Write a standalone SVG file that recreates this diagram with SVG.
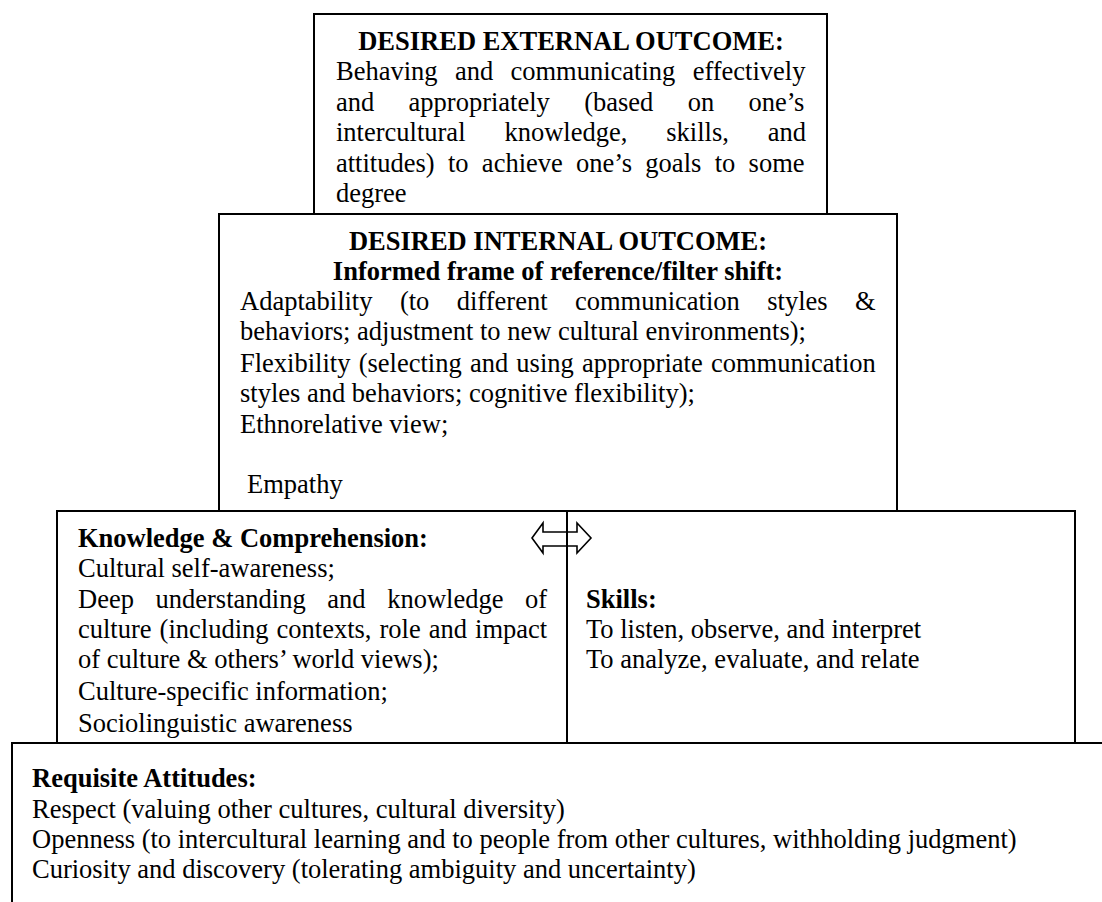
<svg xmlns="http://www.w3.org/2000/svg" width="1102" height="902" viewBox="0 0 1102 902">
  <style>
    .box { fill: #ffffff; stroke: #000000; stroke-width: 2; }
    text { font-family: "Liberation Serif", "Times New Roman", serif; font-size: 26.5px; fill: #000000; }
    .b { font-weight: bold; }
    .c { text-anchor: middle; }
    .arrow { fill: none; stroke: #000000; stroke-width: 1.6; stroke-linejoin: miter; }
  </style>

  <!-- Requisite attitudes (base layer, runs off the page edges) -->
  <g id="attitudes">
    <rect class="box" x="12" y="743" width="1100" height="200"/>
    <text class="b" x="32" y="787">Requisite Attitudes:</text>
    <text x="32" y="818">Respect (valuing other cultures, cultural diversity)</text>
    <text x="32" y="848">Openness (to intercultural learning and to people from other cultures, withholding judgment)</text>
    <text x="32" y="878">Curiosity and discovery (tolerating ambiguity and uncertainty)</text>
  </g>

  <!-- Knowledge & comprehension -->
  <g id="knowledge">
    <rect class="box" x="57" y="511" width="510" height="232"/>
    <text class="b" x="78" y="547">Knowledge &amp; Comprehension:</text>
    <text x="78" y="577">Cultural self-awareness;</text>
    <text x="78" y="608" style="word-spacing:15px">Deep understanding and knowledge of</text>
    <text x="78" y="638" style="word-spacing:1.4px">culture (including contexts, role and impact</text>
    <text x="78" y="668">of culture &amp; others’ world views);</text>
    <text x="78" y="700">Culture-specific information;</text>
    <text x="78" y="732">Sociolinguistic awareness</text>
  </g>

  <!-- Skills -->
  <g id="skills">
    <rect class="box" x="567" y="511" width="508" height="232"/>
    <text class="b" x="586" y="608">Skills:</text>
    <text x="586" y="638">To listen, observe, and interpret</text>
    <text x="586" y="668">To analyze, evaluate, and relate</text>
  </g>

  <!-- Desired internal outcome -->
  <g id="internal-outcome">
    <rect class="box" x="219" y="214" width="678" height="297"/>
    <text class="b c" x="558" y="250">DESIRED INTERNAL OUTCOME:</text>
    <text class="b c" x="558" y="280">Informed frame of reference/filter shift:</text>
    <text x="240" y="310" style="word-spacing:20.8px">Adaptability (to different communication styles &amp;</text>
    <text x="240" y="340">behaviors; adjustment to new cultural environments);</text>
    <text x="240" y="372" style="word-spacing:1.6px">Flexibility (selecting and using appropriate communication</text>
    <text x="240" y="402">styles and behaviors; cognitive flexibility);</text>
    <text x="240" y="433">Ethnorelative view;</text>
    <text x="247" y="493">Empathy</text>
  </g>

  <!-- Desired external outcome -->
  <g id="external-outcome">
    <rect class="box" x="314" y="14" width="513" height="200"/>
    <text class="b c" x="571" y="50">DESIRED EXTERNAL OUTCOME:</text>
    <text x="336" y="80" style="word-spacing:10.7px">Behaving and communicating effectively</text>
    <text x="336" y="110.5" style="word-spacing:27.7px">and appropriately (based on one’s</text>
    <text x="336" y="141" style="word-spacing:32.3px">intercultural knowledge, skills, and</text>
    <text x="336" y="171.5" style="word-spacing:6.7px">attitudes) to achieve one’s goals to some</text>
    <text x="336" y="202">degree</text>
  </g>

  <!-- Two-way link between knowledge and skills -->
  <g id="connectors">
    <path class="arrow" d="M532,538 L543,523 L543,532 L577,532 L577,523 L591,538 L577,553 L577,546 L543,546 L543,553 Z"/>
  </g>
</svg>
